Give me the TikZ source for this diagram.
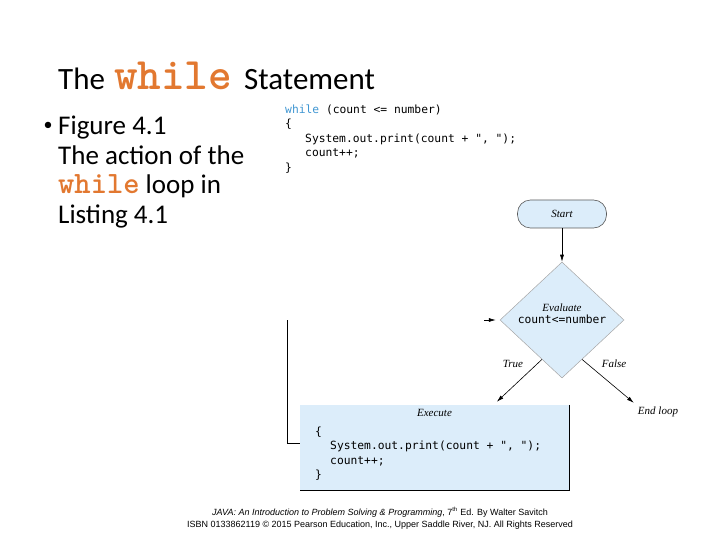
\documentclass[tikz,border=0pt]{standalone}
\usepackage{fontspec}
\setmainfont{Carlito}
\newfontfamily\codefont{DejaVu Sans Mono}
\newfontfamily\figfont{Liberation Serif}
\newfontfamily\footfont{Liberation Sans}
\usepackage{xcolor}
\usetikzlibrary{calc,arrows.meta,positioning,shapes.geometric}
\definecolor{slideOrange}{RGB}{226,120,48}
\definecolor{flowBlue}{RGB}{220,237,250}
\definecolor{flowLine}{RGB}{90,90,90}
\definecolor{kwBlue}{RGB}{64,150,210}
\newcommand{\kwword}[1]{{\ttfamily\bfseries\color{slideOrange}#1}}

\begin{document}
\begin{tikzpicture}[x=1pt,y=-1pt,
  lbl/.style={font=\figfont\itshape\fontsize{11}{13}\selectfont, inner sep=1pt},
  code/.style={font=\codefont\fontsize{11.3}{14.5}\selectfont, align=left, inner sep=0pt},
  flow/.style={-{Latex[length=7pt,width=4pt]}, black, line width=0.6pt}]
\useasboundingbox (0,0) rectangle (720,540);
% slide text
\node[anchor=base west, inner sep=0pt] (title) at (58,90)
  {\fontsize{31}{38}\selectfont The\hspace{2pt} {\fontsize{45}{46}\selectfont\kwword{while}}\hspace{5pt} Statement};
\node[inner sep=0pt, font=\fontsize{18}{20}\selectfont] (bullet) at (48,126) {\textbullet};
\node[anchor=north west, inner sep=0pt, align=left, font=\fontsize{27}{29.5}\selectfont] (caption) at (58,116)
  {Figure 4.1\\The action of the\\{\fontsize{31}{29.5}\selectfont\kwword{while}} loop in\\Listing 4.1};
\node[code, anchor=north west] (listing) at (285,104.5)
  {{\color{kwBlue}while} (count <= number)\\
   \{\\
   \hspace*{20pt}System.out.print(count + ", ");\\
   \hspace*{20pt}count++;\\
   \}};
% flowchart
\node[lbl, fill=flowBlue, draw=flowLine, line width=0.6pt, rounded corners=13pt,
  minimum width=89pt, minimum height=28pt] (start) at (562,214) {Start};
\node[diamond, fill=flowBlue, draw=gray!70, line width=0.5pt, inner sep=0pt,
  minimum width=124pt, minimum height=116pt] (eval) at (562,320) {};
\node[align=center, inner sep=0pt, font=\figfont\itshape\fontsize{11}{12}\selectfont] (evaltext)
  at ([yshift=6pt]eval.center)
  {Evaluate\\{\upshape\codefont\fontsize{11.3}{12}\selectfont count<=number}};
\node[fill=flowBlue, minimum width=269pt, minimum height=85pt, inner sep=0pt] (exec) at (434.5,447.5) {};
\draw[line width=0.8pt] (exec.north east) -- (exec.south east) -- (exec.south west);
\node[lbl, anchor=north] (exectitle) at ([yshift=-3pt]exec.north) {Execute};
\node[code, anchor=north west] (execcode) at (315,426.5)
  {\{\\
   \hspace*{15pt}System.out.print(count + ", ");\\
   \hspace*{15pt}count++;\\
   \}};
\node[lbl] (truelbl) at (513,364) {True};
\node[lbl] (falselbl) at (614,364) {False};
\node[lbl] (endloop) at (658,412) {End loop};
\coordinate (loopcorner) at (287,443);
\coordinate (looptop) at (287,320);
\coordinate (loopin) at (484,320);
\draw[flow] (start) -- (eval);
\draw[flow] (eval.243) -- ($(exec.north west)+(197,-3)$);
\draw[flow] (eval.297) -- ([xshift=-3pt,yshift=3pt]endloop.north west);
\draw[line width=0.8pt] (exec.west |- loopcorner) -- (loopcorner) -- (looptop);
\draw[flow] (loopin) -- ([xshift=-4pt]eval.west);
% footer
\node[align=center, inner sep=0pt, font=\footfont\fontsize{9}{12}\selectfont] (footer) at (380,518)
  {\textit{JAVA: An Introduction to Problem Solving \& Programming}, 7\textsuperscript{th} Ed. By Walter Savitch\\
   ISBN 0133862119 © 2015 Pearson Education, Inc., Upper Saddle River, NJ. All Rights Reserved};
\end{tikzpicture}
\end{document}
